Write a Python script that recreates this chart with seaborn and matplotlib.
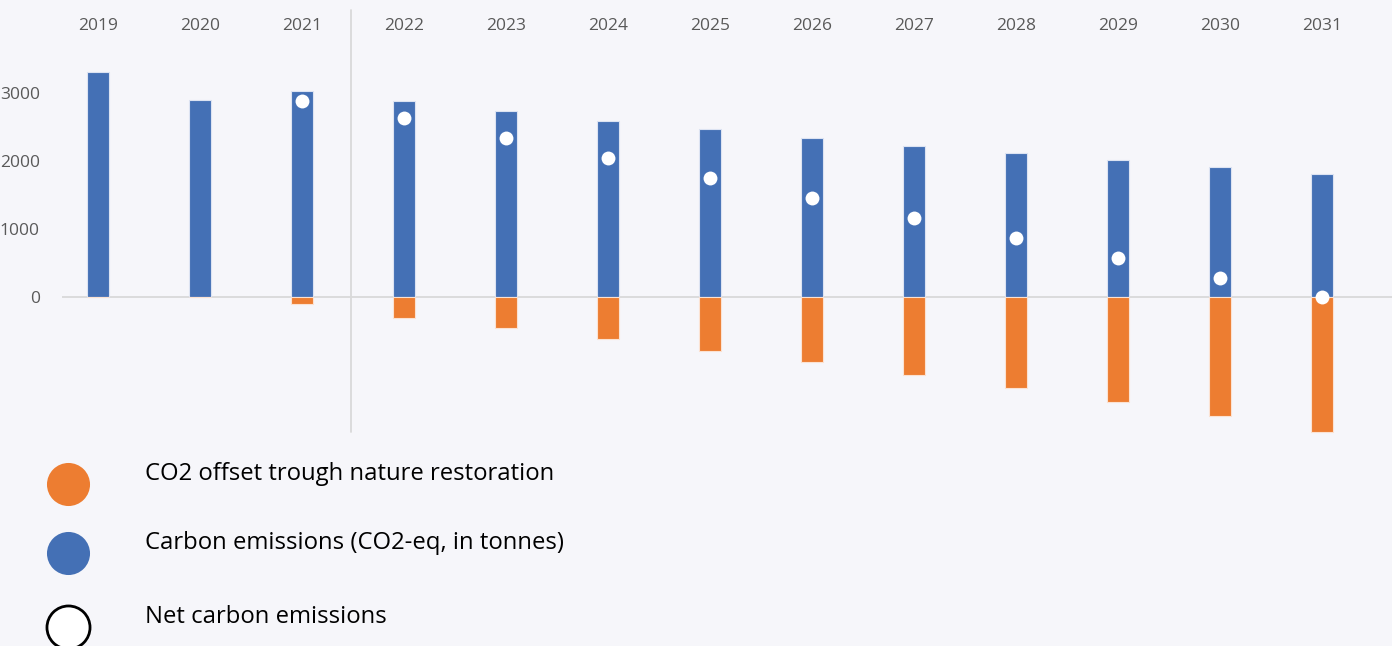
import matplotlib
matplotlib.use("Agg")
import matplotlib.pyplot as plt
from matplotlib.lines import Line2D
import seaborn as sns
import pandas as pd

years = ["2019", "2020", "2021", "2022", "2023", "2024", "2025",
         "2026", "2027", "2028", "2029", "2030", "2031"]
emissions = [3309, 2897, 3029, 2882, 2735, 2588, 2471, 2338, 2221, 2118, 2015, 1912, 1809]
offset = [0, 0, -103, -309, -456, -618, -794, -956, -1147, -1338, -1544, -1750, -1985]
net_years = ["2021", "2022", "2023", "2024", "2025", "2026", "2027",
             "2028", "2029", "2030", "2031"]
net = [2882, 2632, 2338, 2044, 1750, 1456, 1162, 868, 574, 279, 0]
ytick_vals = [0, 1000, 2000, 3000]
legend_labels = ["CO2 offset trough nature restoration",
                 "Carbon emissions (CO2-eq, in tonnes)",
                 "Net carbon emissions"]

BG = "#F6F6FA"
BLUE = "#4470B5"
ORANGE = "#ED7D31"
TXT = "#595959"

sns.set_theme(style="white")
plt.rcParams["font.family"] = ["Open Sans", "DejaVu Sans"]

W, H = 1392, 646
fig = plt.figure(figsize=(W / 100, H / 100), dpi=100, facecolor=BG)
# axes spans pixel x 62..1392, y 0..440
ax = fig.add_axes([62 / W, 1 - 440 / H, 1 - 62 / W, 440 / H], facecolor=BG)

df = pd.DataFrame({"year": years, "emissions": emissions, "offset": offset})
sns.barplot(data=df, x="year", y="emissions", order=years, color=BLUE,
            saturation=1, width=0.225, edgecolor="#DCE3F2", linewidth=0.8, ax=ax)
sns.barplot(data=df, x="year", y="offset", order=years, color=ORANGE,
            saturation=1, width=0.225, edgecolor="#FBE2D2", linewidth=0.8, ax=ax)
dn = pd.DataFrame({"year": net_years, "net": net})
sns.stripplot(data=dn, x="year", y="net", order=years, jitter=False,
              color="white", size=10, linewidth=0, ax=ax, zorder=5)

# axis scaling: x category i at pixel 98 + 102 i ; y 0 at pixel 297, 68 px / 1000
x0 = (62 - 98) / 102
x1 = (1392 - 98) / 102
ax.set_xlim(x0, x1)
ax.set_ylim((297 - 440) / 68 * 1000, 297 / 68 * 1000)

for s in ax.spines.values():
    s.set_visible(False)
ax.axhline(0, color="#D9D9D9", lw=1.3, zorder=0.5)
ax.plot([2.48, 2.48], [(297 - 10) / 68 * 1000, (297 - 432) / 68 * 1000],
        color="#D9D9D9", lw=1.3, zorder=0.5)

ax.set_xticks([])
ax.set_xlabel("")
ax.set_ylabel("")
ax.set_yticks(ytick_vals)
ax.set_yticklabels([str(v) for v in ytick_vals], color=TXT, fontsize=12.5)
ax.tick_params(axis="y", length=0, pad=16)

for i, y in enumerate(years):
    ax.text(i, (297 - 26) / 68 * 1000, y, ha="center", va="center",
            color=TXT, fontsize=12.5)

# legend
colors = [(ORANGE, ORANGE), (BLUE, BLUE), ("white", "black")]
ys = [484, 553, 627]
tys = [474, 543, 617]
for (fc, ec), yy, ty, lab in zip(colors, ys, tys, legend_labels):
    fig.add_artist(Line2D([68 / W], [1 - yy / H], marker="o", markersize=31,
                          markerfacecolor=fc, markeredgecolor=ec,
                          markeredgewidth=2 if ec == "black" else 0,
                          linestyle="none", transform=fig.transFigure))
    fig.text(145 / W, 1 - ty / H, lab, ha="left", va="center",
             fontsize=17.2, color="black")

fig.savefig("out.png", dpi=100, facecolor=BG)
